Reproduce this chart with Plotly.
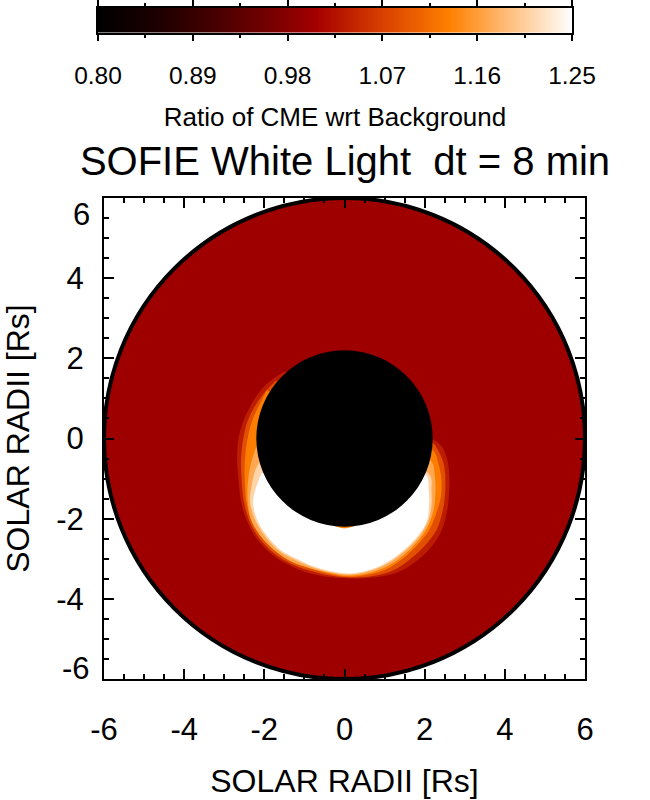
import plotly.graph_objects as go
from plotly.colors import sample_colorscale

W, H = 650, 800
FONT = "Liberation Sans"


def fx(px):
    return px / W


def fy(py):
    return 1 - py / H


TITLE = "SOFIE White Light  dt = 8 min"
AXIS_LABEL = "SOLAR RADII [Rs]"
CBAR_LABEL = "Ratio of CME wrt Background"

Z_MIN, Z_MAX = 0.80, 1.25
CBAR_TICKS = [0.80, 0.89, 0.98, 1.07, 1.16, 1.25]
CBAR_TICK_TEXT = ["0.80", "0.89", "0.98", "1.07", "1.16", "1.25"]
CBAR_MINOR = [0.845, 0.935, 1.025, 1.115, 1.205]
CBAR_LEVELS = [0.80, 0.85, 0.90, 0.95, 1.00, 1.05, 1.10, 1.15, 1.20, 1.25]

COLORSCALE = [
    [0.00, "#000000"],
    [0.12, "#1c0000"],
    [0.24, "#440000"],
    [0.36, "#750000"],
    [0.46, "#a50000"],
    [0.60, "#d84000"],
    [0.74, "#ff8000"],
    [0.87, "#ffc080"],
    [1.00, "#ffffff"],
]

POS_TICKS = [-6, -4, -2, 0, 2, 4, 6]
X_TICK_TEXT = ["-6", "-4", "-2", "0", "2", "4", "6"]
Y_TICK_TEXT = ["", "-4", "-2", "0", "2", "4", ""]

R_OUTER = 6.0
R_OCCULTER = 2.2
BACKGROUND_RATIO = 1.0

# contours of the bright CME front
CME_LEVELS = [1.035, 1.085, 1.13, 1.17, 1.21, 1.25, 1.13]
X_L1 = [-1.48, -1.90, -2.17, -2.38, -2.53, -2.64, -2.68, -2.65, -2.57, -2.40, -2.16, -1.78, -1.36, -0.94, -0.36, 0.14, 0.71, 1.30, 1.71, 2.13, 2.42, 2.56, 2.61, 2.61, 2.55, 2.40, 2.17, 1.0, -0.5]
Y_L1 = [1.68, 1.40, 1.10, 0.75, 0.42, 0.03, -0.47, -0.97, -1.63, -2.13, -2.54, -2.92, -3.17, -3.34, -3.46, -3.49, -3.47, -3.35, -3.12, -2.75, -2.30, -1.80, -1.37, -0.87, -0.47, -0.17, 0.0, 0.5, 1.0]
X_L2 = [-1.71, -2.02, -2.25, -2.42, -2.52, -2.58, -2.57, -2.50, -2.34, -2.10, -1.74, -1.32, -0.90, -0.36, 0.14, 0.71, 1.22, 1.63, 2.01, 2.30, 2.45, 2.51, 2.51, 2.45, 2.32, 2.19, 1.0, -0.6]
Y_L2 = [1.45, 1.12, 0.78, 0.43, 0.03, -0.47, -0.97, -1.63, -2.13, -2.52, -2.88, -3.13, -3.29, -3.42, -3.47, -3.43, -3.29, -3.02, -2.67, -2.27, -1.80, -1.37, -0.87, -0.55, -0.27, -0.10, 0.3, 0.8]
X_L3 = [-1.94, -2.11, -2.30, -2.41, -2.48, -2.49, -2.44, -2.28, -2.03, -1.69, -1.28, -0.86, -0.36, 0.14, 0.71, 1.14, 1.55, 1.88, 2.13, 2.31, 2.40, 2.42, 2.34, 2.21, 1.0, -0.8]
Y_L3 = [1.20, 0.87, 0.45, 0.03, -0.47, -0.97, -1.63, -2.13, -2.50, -2.84, -3.10, -3.24, -3.38, -3.45, -3.37, -3.21, -2.92, -2.59, -2.25, -1.80, -1.47, -1.05, -0.62, -0.30, 0.2, 0.6]
X_L4 = [-2.20, -2.33, -2.40, -2.42, -2.34, -2.12, -1.78, -1.36, -0.92, -0.34, 0.14, 0.71, 1.14, 1.55, 1.88, 2.10, 2.23, 2.27, 2.25, 2.15, 1.0, -1.0]
Y_L4 = [-0.2, -0.6, -1.0, -1.5, -2.0, -2.40, -2.76, -3.05, -3.22, -3.36, -3.42, -3.33, -3.15, -2.85, -2.50, -2.15, -1.75, -1.30, -0.9, -0.55, -0.2, 0.1]
X_L5 = [-2.10, -2.23, -2.33, -2.36, -2.22, -1.97, -1.63, -1.22, -0.80, -0.31, 0.14, 0.71, 1.14, 1.55, 1.88, 2.08, 2.17, 2.17, 2.12, 1.0, -1.0]
Y_L5 = [-0.55, -0.80, -1.25, -1.55, -2.05, -2.45, -2.80, -3.03, -3.21, -3.34, -3.39, -3.28, -3.08, -2.77, -2.42, -2.08, -1.68, -1.30, -0.9, -0.4, -0.3]
X_L6 = [-2.07, -2.23, -2.28, -2.15, -1.91, -1.57, -1.19, -0.78, -0.29, 0.14, 0.71, 1.14, 1.55, 1.88, 2.06, 2.11, 2.10, 2.03, 1.0, -1.0]
Y_L6 = [-0.87, -1.30, -1.63, -2.09, -2.46, -2.80, -3.00, -3.19, -3.32, -3.37, -3.25, -3.04, -2.72, -2.37, -2.05, -1.63, -1.30, -0.9, -0.5, -0.6]
X_SLIT = [-0.25, 0.0, 0.25]
Y_SLIT = [-2.18, -2.24, -2.18]
CME_X = [X_L1, X_L2, X_L3, X_L4, X_L5, X_L6, X_SLIT]
CME_Y = [Y_L1, Y_L2, Y_L3, Y_L4, Y_L5, Y_L6, Y_SLIT]


def ratio_color(v):
    return sample_colorscale(COLORSCALE, (v - Z_MIN) / (Z_MAX - Z_MIN))[0]


fig = go.Figure()

# colour bar drawn as its own small heatmap so it can carry ticks on both sides
fig.add_trace(go.Heatmap(
    x=CBAR_LEVELS, y=[0, 1], z=[CBAR_LEVELS, CBAR_LEVELS],
    zmin=Z_MIN, zmax=Z_MAX, colorscale=COLORSCALE, showscale=False,
    zsmooth="best", xaxis="x2", yaxis="y2", hoverinfo="skip",
))

for lvl, xs, ys in zip(CME_LEVELS, CME_X, CME_Y):
    fig.add_trace(go.Scatter(
        x=xs, y=ys, mode="lines", fill="toself", line=dict(width=0, shape="spline", smoothing=1),
        fillcolor=ratio_color(lvl), showlegend=False, hoverinfo="skip",
    ))

fig.add_shape(type="circle", xref="x", yref="y", layer="below",
              x0=-R_OUTER, x1=R_OUTER, y0=-R_OUTER, y1=R_OUTER,
              fillcolor=ratio_color(BACKGROUND_RATIO), line=dict(width=0))
fig.add_shape(type="circle", xref="x", yref="y", layer="above",
              x0=-R_OUTER, x1=R_OUTER, y0=-R_OUTER, y1=R_OUTER,
              line=dict(color="black", width=4))
fig.add_shape(type="circle", xref="x", yref="y", layer="above",
              x0=-R_OCCULTER, x1=R_OCCULTER, y0=-R_OCCULTER, y1=R_OCCULTER,
              fillcolor="black", line=dict(width=0))

main_axis = dict(
    range=[-6, 6], tickmode="array", tickvals=POS_TICKS, ticks="inside", ticklen=10,
    tickwidth=1.5, tickcolor="black", showline=True, linecolor="black", linewidth=2,
    mirror="allticks", showgrid=False, zeroline=False, automargin=False,
    tickfont=dict(family=FONT, size=31, color="black"),
    minor=dict(dtick=0.5, ticks="inside", ticklen=5, tickwidth=1.5, tickcolor="black", showgrid=False),
)
title_font = dict(family=FONT, size=32, color="black")

fig.update_layout(
    width=W, height=H, autosize=False, showlegend=False,
    margin=dict(l=0, r=0, t=0, b=0),
    paper_bgcolor="white", plot_bgcolor="white",
    font=dict(family=FONT, color="black"),
    title=dict(text=TITLE, font=dict(family=FONT, size=40, color="black"),
               x=fx(345), xref="paper", xanchor="center", y=fy(161), yref="paper", yanchor="middle"),
    xaxis=dict(main_axis, domain=[fx(104), fx(585)], ticktext=X_TICK_TEXT, anchor="y",
               ticklabelstandoff=22,
               title=dict(text=AXIS_LABEL, font=title_font, standoff=23)),
    yaxis=dict(main_axis, domain=[fy(679), fy(198)], ticktext=Y_TICK_TEXT, anchor="x",
               ticklabelstandoff=12,
               title=dict(text=AXIS_LABEL, font=title_font, standoff=33)),
    xaxis2=dict(
        domain=[fx(98), fx(572)], anchor="y2", range=[Z_MIN, Z_MAX], tickmode="array",
        tickvals=CBAR_TICKS, ticktext=CBAR_TICK_TEXT, ticks="outside", ticklen=6, tickwidth=1.5,
        tickcolor="black", showline=True, linecolor="black", linewidth=1.5, mirror="allticks",
        showgrid=False, zeroline=False, ticklabelstandoff=14, automargin=False,
        tickfont=dict(family=FONT, size=24.5, color="black"),
        minor=dict(tickvals=CBAR_MINOR, ticks="outside", ticklen=3,
                   tickwidth=1.5, tickcolor="black", showgrid=False),
        title=dict(text=CBAR_LABEL, font=dict(family=FONT, size=26, color="black"), standoff=20),
    ),
    yaxis2=dict(domain=[fy(33), fy(7.5)], anchor="x2", range=[0, 1], showticklabels=False,
                ticks="", showline=True, linecolor="black", linewidth=1.5, mirror=True,
                showgrid=False, zeroline=False, automargin=False),
    annotations=[
        dict(text="6", xref="paper", yref="y", x=fx(92), y=5.58, xanchor="right", yanchor="middle",
             showarrow=False, font=dict(family=FONT, size=31, color="black")),
        dict(text="-6", xref="paper", yref="y", x=fx(92), y=-5.73, xanchor="right", yanchor="middle",
             showarrow=False, font=dict(family=FONT, size=31, color="black")),
    ],
)

fig.write_html("out.html", post_script="document.body.style.margin='0';",
               config=dict(displayModeBar=False))
